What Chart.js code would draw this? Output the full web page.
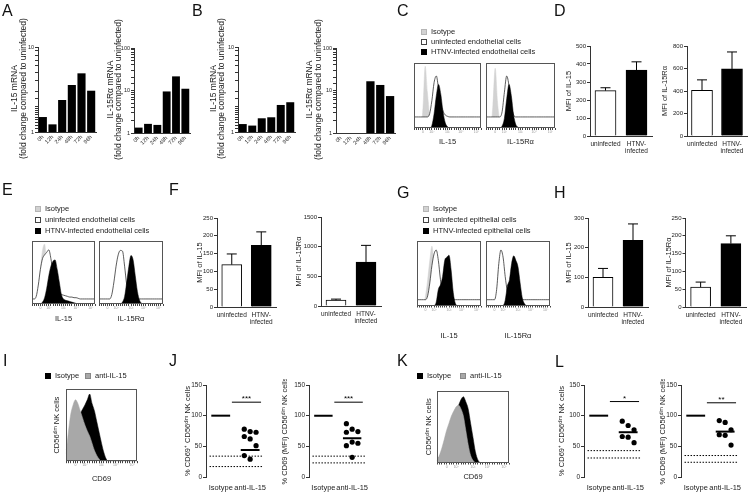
<!DOCTYPE html>
<html>
<head>
<meta charset="utf-8">
<title>IL-15 / IL-15Ra figure</title>
<script src="https://cdn.jsdelivr.net/npm/chart.js@4.4.1/dist/chart.umd.min.js"></script>
<style>
  body { margin: 0; width: 751px; height: 494px; position: relative; overflow: hidden; background: #fff;
         font-family: "Liberation Sans", Arial, Helvetica, sans-serif; color: #222; }
  canvas { position: absolute; }
  .lt, .lg { position: absolute; white-space: nowrap; will-change: transform; }
  .lt { font-size: 16px; line-height: 16px; color: #111; }
  .lg { font-size: 7.5px; line-height: 8px; }
  .sw { display: inline-block; width: 6px; height: 6px; box-sizing: border-box; margin-right: 4px; vertical-align: -1px; }
  .iso { background: #d2d2d2; border: 1px solid #b5b5b5; }
  .uni { background: #fff; border: 1px solid #444; }
  .inf { background: #000; }
  .anti { background: #a8a8a8; border: 1px solid #888; }
</style>
</head>
<body>
<div class="lt" style="left:2px;top:3px">A</div>
<div class="lt" style="left:192px;top:3px">B</div>
<div class="lt" style="left:397px;top:3px">C</div>
<div class="lt" style="left:554px;top:3px">D</div>
<div class="lt" style="left:2px;top:182px">E</div>
<div class="lt" style="left:169px;top:182px">F</div>
<div class="lt" style="left:397px;top:185px">G</div>
<div class="lt" style="left:554px;top:185px">H</div>
<div class="lt" style="left:3px;top:353px">I</div>
<div class="lt" style="left:169px;top:353px">J</div>
<div class="lt" style="left:397px;top:353px">K</div>
<div class="lt" style="left:555px;top:354px">L</div>

<div class="lg" style="left:421px;top:28px"><i class="sw iso"></i>Isotype</div>
<div class="lg" style="left:421px;top:38px"><i class="sw uni"></i>uninfected endothelial cells</div>
<div class="lg" style="left:421px;top:48px"><i class="sw inf"></i>HTNV-infected endothelial cells</div>

<div class="lg" style="left:35px;top:205px"><i class="sw iso"></i>Isotype</div>
<div class="lg" style="left:35px;top:215.5px"><i class="sw uni"></i>uninfected endothelial cells</div>
<div class="lg" style="left:35px;top:226.5px"><i class="sw inf"></i>HTNV-infected endothelial cells</div>

<div class="lg" style="left:423px;top:205px"><i class="sw iso"></i>Isotype</div>
<div class="lg" style="left:423px;top:215.5px"><i class="sw uni"></i>uninfected epithelial cells</div>
<div class="lg" style="left:423px;top:226.5px"><i class="sw inf"></i>HTNV-infected epithelial cells</div>

<div class="lg" style="left:45px;top:372px"><i class="sw inf"></i>Isotype</div>
<div class="lg" style="left:85px;top:372px"><i class="sw anti"></i>anti-IL-15</div>
<div class="lg" style="left:417px;top:372px"><i class="sw inf"></i>Isotype</div>
<div class="lg" style="left:460px;top:372px"><i class="sw anti"></i>anti-IL-15</div>

<script>
// ---- values ----
const hours = ['0h', '12h', '24h', '48h', '72h', '96h'];
const aIL15 = [1.5, 1.23, 2.38, 3.57, 4.9, 3.06];
const aIL15Ra = [1.34, 1.64, 1.55, 9.5, 21.5, 11];
const bIL15 = [1.24, 1.19, 1.45, 1.49, 2.08, 2.24];
const bIL15Ra = [1, 1, 1, 16.5, 13.5, 7.4];

const groups = ['uninfected', ['HTNV-', 'infected']];
const dIL15 = [252, 366], dIL15Err = [16, 46];
const dIL15Ra = [407, 596], dIL15RaErr = [92, 151];
const fIL15 = [119, 173], fIL15Err = [30, 38];
const fIL15Ra = [98, 742], fIL15RaErr = [18, 280];
const hIL15 = [100, 225], hIL15Err = [30, 55];
const hIL15Ra = [56, 178], hIL15RaErr = [14, 22];

const treatments = ['Isotype', 'anti-IL-15'];
const jPct = [78, 74, 73, 66, 62, 51, 35, 29], jPctLine = 44, jPctCtrl = [34, 17];
const jMfi = [87, 78, 74, 73, 57, 55, 51, 32], jMfiLine = 63, jMfiCtrl = [34, 23];
const lPct = [91, 84, 77, 66, 65, 56], lPctLine = 73, lPctCtrl = [43, 31];
const lMfi = [92, 89, 77, 69, 68, 52], lMfiLine = 74, lMfiCtrl = [35, 24];

// flow histograms: 31 channels, counts in % of the tallest peak
const flowBins = [0,1,2,3,4,5,6,7,8,9,10,11,12,13,14,15,16,17,18,19,20,21,22,23,24,25,26,27,28,29,30];
const flowTicks = {4: '0', 8: '10²', 15: '10³', 21: '10⁴', 28: '10⁵'};

const cIso15 = [0,0,0,0,30,95,55,20,3,0, 0,0,0,0,0,0,0,0,0,0, 0,0,0,0,0,0,0,0,0,0, 0];
const cUn15  = [17,17,17,17,17,17,17,22,42,70, 80,60,38,26,20,18,17,17,17,17, 17,17,17,17,17,17,17,17,17,17, 17];
const cInf15 = [0,0,0,0,0,0,0,0,4,22, 50,67,52,25,8,2,0,0,0,0, 0,0,0,0,0,0,0,0,0,0, 0];
const cIsoRa = [0,0,0,35,92,40,10,2,0,0, 0,0,0,0,0,0,0,0,0,0, 0,0,0,0,0,0,0,0,0,0, 0];
const cUnRa  = [17,17,17,17,17,17,17,25,55,80, 65,35,20,17,17,17,17,17,17,17, 17,17,17,17,17,17,17,17,17,17, 17];
const cInfRa = [0,0,0,0,0,0,0,3,15,45, 67,50,20,5,1,0,0,0,0,0, 0,0,0,0,0,0,0,0,0,0, 0];

const eIso15 = [0,0,5,25,55,85,95,60,20,5, 0,0,0,0,0,0,0,0,0,0, 0,0,0,0,0,0,0,0,0,0, 0];
const eUn15  = [8,8,12,30,55,72,78,82,86,72, 50,32,22,17,15,14,13,12,11,11, 10,10,9,8,8,8,8,8,8,8, 8];
const eInf15 = [0,0,0,0,0,3,10,25,45,60, 68,70,55,35,15,8,6,5,4,3, 2,1,0,0,0,0,0,0,0,0, 0];
const eIsoRa = [0,0,0,0,0,0,5,20,40,55, 50,30,10,3,0,0,0,0,0,0, 0,0,0,0,0,0,0,0,0,0, 0];
const eUnRa  = [8,8,8,8,8,8,15,35,60,78, 85,84,60,30,14,9,8,8,8,8, 8,8,8,8,8,8,8,8,8,8, 8];
const eInfRa = [0,0,0,0,0,0,0,0,0,0, 0,3,12,35,60,77,70,45,20,6, 1,0,0,0,0,0,0,0,0,0, 0];

const gIso15 = [0,0,0,0,15,40,70,92,60,25, 8,2,0,0,0,0,0,0,0,0, 0,0,0,0,0,0,0,0,0,0, 0];
const gUn15  = [9,9,9,9,9,15,35,62,80,86, 70,40,18,11,9,9,9,9,9,9, 9,9,9,9,9,9,9,9,9,9, 9];
const gInf15 = [0,0,0,0,0,0,0,0,0,5, 25,32,45,70,75,78,55,20,3,0, 0,0,0,0,0,0,0,0,0,0, 0];
const gIsoRa = [0,0,0,0,0,20,60,80,45,10, 0,0,0,0,0,0,0,0,0,0, 0,0,0,0,0,0,0,0,0,0, 0];
const gUnRa  = [9,9,9,9,9,25,65,86,75,45, 22,12,9,9,9,9,9,9,9,9, 9,9,9,9,9,9,9,9,9,9, 9];
const gInfRa = [0,0,0,0,0,0,0,0,0,8, 30,40,65,77,70,60,35,12,3,0, 0,0,0,0,0,0,0,0,0,0, 0];

const iIso  = [16,20,28,40,52,60,66,72,78,85, 93,80,70,55,40,25,12,3,0,0, 0,0,0,0,0,0,0,0,0,0, 0];
const iAnti = [10,40,65,78,85,80,70,60,50,42, 35,25,15,8,3,0,0,0,0,0, 0,0,0,0,0,0,0,0,0,0, 0];
const kIso  = [3,8,15,25,35,45,55,65,72,80, 88,92,85,75,55,35,15,4,0,0, 0,0,0,0,0,0,0,0,0,0, 0];
const kAnti = [3,10,20,32,45,55,65,72,78,80, 75,65,45,25,10,3,0,0,0,0, 0,0,0,0,0,0,0,0,0,0, 0];

// ---- drawing ----
const AX = '#333';
const TXT = '#222';
const FAMILY = '"Liberation Sans", Arial, Helvetica, sans-serif';
Chart.defaults.font.family = FAMILY;
Chart.defaults.color = TXT;
Chart.defaults.animation = false;
Chart.defaults.events = [];
Chart.defaults.plugins.legend.display = false;
Chart.defaults.plugins.tooltip.enabled = false;

// canvas placed so that the plot area lands on (l, t, r, b); m = margins around it
function mount(l, t, r, b, m) {
  const cv = document.createElement('canvas');
  const w = Math.round(r - l + m.l + m.r);
  const h = Math.round(b - t + m.t + m.b);
  cv.width = w;
  cv.height = h;
  cv.style.left = Math.round(l - m.l) + 'px';
  cv.style.top = Math.round(t - m.t) + 'px';
  cv.style.width = w + 'px';
  cv.style.height = h + 'px';
  document.body.appendChild(cv);
  return cv;
}

// rotated y titles, drawn without the width limit Chart.js puts on axis titles
Chart.register({
  id: 'vtitle',
  afterDraw(chart, args, o) {
    if (!o.lines) return;
    const {ctx, chartArea: a} = chart;
    const x0 = o.x - chart.canvas.offsetLeft;
    ctx.save();
    ctx.fillStyle = TXT;
    ctx.font = o.size + 'px ' + FAMILY;
    ctx.textAlign = 'center';
    ctx.textBaseline = 'middle';
    o.lines.forEach((s, i) => {
      ctx.save();
      ctx.translate(x0 + i * (o.gap || 0), (a.top + a.bottom) / 2 + (o.dy || 0));
      ctx.rotate(-Math.PI / 2);
      ctx.fillText(s, 0, 0);
      ctx.restore();
    });
    ctx.restore();
  }
});

const errBars = {
  id: 'errbars',
  afterDatasetsDraw(chart, args, o) {
    const ctx = chart.ctx, y = chart.scales.y;
    chart.getDatasetMeta(0).data.forEach((bar, i) => {
      const v = chart.data.datasets[0].data[i];
      const top = y.getPixelForValue(v + o.errs[i]);
      ctx.save();
      ctx.strokeStyle = '#000';
      ctx.lineWidth = 1;
      ctx.beginPath();
      ctx.moveTo(bar.x, bar.y);
      ctx.lineTo(bar.x, top);
      ctx.moveTo(bar.x - o.cap, top);
      ctx.lineTo(bar.x + o.cap, top);
      ctx.stroke();
      ctx.restore();
    });
  }
};

const frame = {
  id: 'frame',
  afterDatasetsDraw(chart) {
    const {ctx, chartArea: a} = chart;
    ctx.save();
    ctx.strokeStyle = '#555';
    ctx.lineWidth = 1;
    ctx.strokeRect(Math.round(a.left) + 0.5, Math.round(a.top) + 0.5,
                   Math.round(a.right - a.left) - 1, Math.round(a.bottom - a.top) - 1);
    ctx.restore();
  }
};

const sigMark = {
  id: 'sig',
  afterDatasetsDraw(chart, args, o) {
    const {ctx, scales: {x, y}} = chart;
    ctx.save();
    ctx.fillStyle = '#000';
    ctx.font = '8px ' + FAMILY;
    ctx.textAlign = 'center';
    ctx.fillText(o.text, x.getPixelForValue(o.x), y.getPixelForValue(o.y) - 1);
    ctx.restore();
  }
};

const foldTitle = '(fold change compared to uninfected)';

function logBars(l, t, r, b, yW, vals, max, title, titleX) {
  const cv = mount(l, t, r, b, {l: yW, t: 32, r: 4, b: 31});
  new Chart(cv, {
    type: 'bar',
    data: {labels: hours, datasets: [{data: vals, backgroundColor: '#000', barPercentage: 0.84, categoryPercentage: 1}]},
    options: {
      responsive: false,
      layout: {padding: {top: 32, right: 4, bottom: 7}},
      plugins: {vtitle: {lines: [title, foldTitle], x: titleX, gap: 8.4, size: 8.5, dy: -1}},
      scales: {
        x: {
          grid: {display: false, drawTicks: false}, border: {color: AX},
          ticks: {font: {size: 5.5}, minRotation: 45, maxRotation: 45, autoSkip: false, padding: 2},
          afterFit: s => { s.height = 24; }
        },
        y: {
          type: 'logarithmic', min: 1, max: max,
          border: {color: AX}, grid: {drawOnChartArea: false, color: AX, tickLength: 3},
          ticks: {font: {size: 5.5}, padding: 1, autoSkip: false,
                  callback: v => Number.isInteger(Math.log10(v)) ? String(v) : ''},
          afterFit: s => { s.width = yW; }
        }
      }
    }
  });
}

function mfiBars(l, t, r, b, yW, vals, errs, max, step, title, thick) {
  const cv = mount(l, t, r, b, {l: yW, t: 6, r: 4, b: 24});
  new Chart(cv, {
    type: 'bar',
    data: {labels: groups, datasets: [{data: vals, backgroundColor: ['#fff', '#000'], borderColor: '#000',
                                       borderWidth: 1, barThickness: thick}]},
    plugins: [errBars],
    options: {
      responsive: false,
      layout: {padding: {top: 6, right: 4}},
      plugins: {errbars: {errs: errs, cap: 5}},
      scales: {
        x: {
          grid: {display: false, drawTicks: false}, border: {color: AX},
          ticks: {font: {size: 6.5}, maxRotation: 0, autoSkip: false, padding: 4},
          afterFit: s => { s.height = 24; }
        },
        y: {
          min: 0, max: max,
          border: {color: AX}, grid: {drawOnChartArea: false, color: AX, tickLength: 3},
          ticks: {font: {size: 6}, stepSize: step, padding: 1, callback: v => String(v)},
          title: {display: true, text: title, font: {size: 7.5}, padding: 0, color: TXT},
          afterFit: s => { s.width = yW; }
        }
      }
    }
  });
}

function dotPlot(l, t, r, b, yW, anti, line, ctrl, sigY, stars, title, titleX) {
  const cv = mount(l, t, r, b, {l: yW, t: 6, r: 3, b: 16});
  const seg = (x0, x1, y) => [{x: x0, y: y}, {x: x1, y: y}];
  const sorted = [...anti].sort((p, q) => q - p);
  const flat = {showLine: true, pointRadius: 0, borderColor: '#000'};
  const datasets = [
    {data: sorted.map((v, i) => ({x: 1.5 + ((i % 3) - 1) * 0.2, y: v})),
     pointRadius: 2.6, pointBackgroundColor: '#000', pointBorderWidth: 0},
    {...flat, data: seg(0.18, 0.82, 100), borderWidth: 2},
    {...flat, data: seg(1.18, 1.82, line), borderWidth: 2},
    {...flat, data: seg(0.88, 1.87, sigY), borderWidth: 1},
    ...ctrl.map(v => ({...flat, data: seg(0.12, 1.95, v), borderWidth: 1, borderDash: [1.5, 1.5]}))
  ];
  new Chart(cv, {
    type: 'scatter',
    data: {datasets: datasets},
    plugins: [sigMark],
    options: {
      responsive: false,
      layout: {padding: {top: 6, right: 3}},
      plugins: {sig: {text: stars, x: 1.375, y: sigY}, vtitle: {lines: [title], x: titleX, size: 7.5}},
      scales: {
        x: {
          min: 0, max: 2,
          grid: {display: false, drawTicks: false}, border: {display: false},
          afterBuildTicks: s => { s.ticks = [{value: 0.5}, {value: 1.5}]; },
          ticks: {font: {size: 7.5}, maxRotation: 0, padding: 6, callback: v => v < 1 ? treatments[0] : treatments[1]},
          afterFit: s => { s.height = 16; }
        },
        y: {
          min: 0, max: 150,
          border: {color: AX}, grid: {drawOnChartArea: false, color: AX, tickLength: 3},
          ticks: {font: {size: 6.5}, stepSize: 50, padding: 1},
          afterFit: s => { s.width = yW; }
        }
      }
    }
  });
}

const GRAY = {fill: '#d2d2d2', line: '#d2d2d2', w: 0.5};
const WHITE = {fill: '#fff', line: '#333', w: 0.8};
const BLACK = {fill: '#000', line: '#000', w: 0.5};
const MID = {fill: '#a8a8a8', line: '#a8a8a8', w: 0.5};

// curves listed top-most first
function histo(l, t, r, b, xH, curves, xTitle, padL, yTitle, yTitleX) {
  padL = padL || 0;
  const cv = mount(l, t, r, b, {l: padL, t: 2, r: 2, b: xH});
  new Chart(cv, {
    type: 'line',
    data: {
      labels: flowBins,
      datasets: curves.map(c => ({data: c.data, fill: 'origin', backgroundColor: c.style.fill,
                                  borderColor: c.style.line, borderWidth: c.style.w, pointRadius: 0,
                                  cubicInterpolationMode: 'monotone'}))
    },
    plugins: [frame],
    options: {
      responsive: false,
      layout: {padding: {left: padL, top: 2, right: 2}},
      plugins: {vtitle: yTitle ? {lines: [yTitle], x: yTitleX, size: 7.5} : {}},
      scales: {
        x: {
          offset: false,
          grid: {drawOnChartArea: false, color: '#444', tickLength: 2}, border: {display: false},
          ticks: {autoSkip: false, maxRotation: 0, font: {size: 3.5}, color: '#999', padding: 0,
                  callback: (v, i) => flowTicks[i] || ''},
          title: {display: true, text: xTitle, font: {size: 7.5}, padding: 0, color: TXT},
          afterFit: s => { s.height = xH; }
        },
        y: {min: 0, max: 100, display: false}
      }
    }
  });
}

// A, B
logBars(38, 47, 96, 132, 30, aIL15, 10, 'IL-15 mRNA', 15);
logBars(134, 47.5, 190, 132, 28, aIL15Ra, 100, 'IL-15Rα mRNA', 110.3);
logBars(238, 47, 295, 132, 30, bIL15, 10, 'IL-15 mRNA', 213.3);
logBars(336, 47.5, 395, 132, 30, bIL15Ra, 100, 'IL-15Rα mRNA', 310);

// C, E, G
histo(414.3, 63.3, 481, 128.3, 18, [{data: cInf15, style: BLACK}, {data: cUn15, style: WHITE}, {data: cIso15, style: GRAY}], 'IL-15');
histo(485.7, 63.3, 555, 128.3, 18, [{data: cInfRa, style: BLACK}, {data: cUnRa, style: WHITE}, {data: cIsoRa, style: GRAY}], 'IL-15Rα');
histo(32.3, 241, 95.7, 304.3, 19, [{data: eInf15, style: BLACK}, {data: eUn15, style: WHITE}, {data: eIso15, style: GRAY}], 'IL-15');
histo(98.7, 241, 162.7, 304.3, 19, [{data: eInfRa, style: BLACK}, {data: eUnRa, style: WHITE}, {data: eIsoRa, style: GRAY}], 'IL-15Rα');
histo(416.7, 241, 481, 305, 34.5, [{data: gInf15, style: BLACK}, {data: gUn15, style: WHITE}, {data: gIso15, style: GRAY}], 'IL-15');
histo(486, 241, 550, 305, 34.5, [{data: gInfRa, style: BLACK}, {data: gUnRa, style: WHITE}, {data: gIsoRa, style: GRAY}], 'IL-15Rα');

// D, F, H
mfiBars(590, 46, 652, 135.7, 26, dIL15, dIL15Err, 500, 100, 'MFI of IL-15', 21);
mfiBars(687, 45.5, 747, 135.7, 27, dIL15Ra, dIL15RaErr, 800, 200, 'MFI of IL-15Rα', 21);
mfiBars(217, 218.3, 276, 307.3, 22, fIL15, fIL15Err, 250, 50, 'MFI of IL-15', 20);
mfiBars(321, 217, 381, 305.7, 27, fIL15Ra, fIL15RaErr, 1500, 500, 'MFI of IL-15Rα', 20);
mfiBars(588, 218, 648, 307.3, 24, hIL15, hIL15Err, 300, 100, 'MFI of IL-15', 20);
mfiBars(685, 218, 745, 307.3, 21.5, hIL15Ra, hIL15RaErr, 250, 50, 'MFI of IL-15Rα', 20);

// I, K
histo(66, 389.3, 137.3, 461.7, 21.8, [{data: iAnti, style: MID}, {data: iIso, style: BLACK}], 'CD69', 14, 'CD56ᵈⁱᵐ NK cells', 57);
histo(437.3, 390.7, 509.3, 461.7, 18.5, [{data: kAnti, style: MID}, {data: kIso, style: BLACK}], 'CD69', 13, 'CD56ᵈⁱᵐ NK cells', 429);

// J, L
dotPlot(205.7, 385, 270, 477.3, 22, jPct, jPctLine, jPctCtrl, 122, '***', '% CD69⁺ CD56ᵈⁱᵐ NK cells', 188);
dotPlot(309, 385, 372, 477.3, 29, jMfi, jMfiLine, jMfiCtrl, 122, '***', '% CD69 (MFI) CD56ᵈⁱᵐ NK cells', 285);
dotPlot(584.3, 385, 648, 477.3, 27, lPct, lPctLine, lPctCtrl, 123, '*', '% CD69⁺ CD56ᵈⁱᵐ NK cells', 562);
dotPlot(681, 385, 745, 477.3, 22, lMfi, lMfiLine, lMfiCtrl, 121, '**', '% CD69 (MFI) CD56ᵈⁱᵐ NK cells', 663);
</script>
</body>
</html>
